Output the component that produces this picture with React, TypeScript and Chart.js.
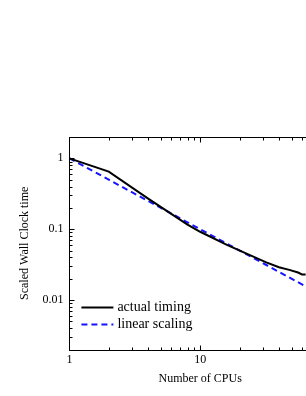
import React, { useEffect, useRef } from 'react';
import { Chart, registerables } from 'chart.js';

Chart.register(...registerables);

const cpuCounts = [1, 2, 4, 8, 10, 16, 24, 32, 40, 48, 56, 60, 64];
const actualTiming = [1, 0.65, 0.27, 0.116, 0.092, 0.06, 0.043, 0.034, 0.029, 0.0267, 0.0245, 0.023, 0.023];
const linearCpuCounts = [1, 2, 4, 8, 16, 32, 64];
const linearScaling = [1, 0.5, 0.25, 0.125, 0.0625, 0.03125, 0.015625];
const xTickValues = [1, 10, 100];
const xTickLabels = ['1', '10', '100'];
const yTickValues = [0.01, 0.1, 1];
const yTickLabels = ['0.01', '0.1', '1'];
const seriesNames = ['actual timing', 'linear scaling'];
const seriesColors = ['#000000', '#1414ff'];
const xTitle = 'Number of CPUs';
const yTitle = 'Scaled Wall Clock time';

const FONT = "'Liberation Serif', 'Times New Roman', serif";

function logMarks(min: number, max: number) {
  const out: { v: number; major: boolean }[] = [];
  for (let e = Math.floor(Math.log10(min)); e <= Math.ceil(Math.log10(max)); e++) {
    for (let m = 1; m <= 9; m++) {
      const v = m * Math.pow(10, e);
      if (v >= min * 0.999 && v <= max * 1.001) out.push({ v, major: m === 1 });
    }
  }
  return out;
}

const framePlugin = {
  id: 'framePlugin',
  afterDatasetsDraw(chart: any) {
    const { ctx, chartArea: a, scales } = chart;
    const xs = scales.x;
    const ys = scales.y;
    ctx.save();
    ctx.strokeStyle = '#000';
    ctx.lineWidth = 1;
    const L = Math.round(a.left) + 0.5;
    const R = Math.round(a.right) + 0.5;
    const T = Math.round(a.top) + 0.5;
    const B = Math.round(a.bottom) + 0.5;
    ctx.beginPath();
    ctx.rect(L, T, R - L, B - T);
    ctx.stroke();
    ctx.beginPath();
    for (const t of logMarks(xs.min, xs.max)) {
      const p = Math.round(xs.getPixelForValue(t.v)) + 0.5;
      const len = t.major ? 5 : 3;
      ctx.moveTo(p, B);
      ctx.lineTo(p, B - len);
      ctx.moveTo(p, T);
      ctx.lineTo(p, T + len);
    }
    for (const t of logMarks(ys.min, ys.max)) {
      const p = Math.round(ys.getPixelForValue(t.v)) + 0.5;
      const len = t.major ? 5 : 3;
      ctx.moveTo(L, p);
      ctx.lineTo(L + len, p);
      ctx.moveTo(R, p);
      ctx.lineTo(R - len, p);
    }
    ctx.stroke();

    // legend
    const rows = [a.bottom - 42, a.bottom - 25];
    ctx.font = `14px ${FONT}`;
    ctx.textBaseline = 'middle';
    ctx.textAlign = 'left';
    rows.forEach((y, i) => {
      ctx.beginPath();
      ctx.strokeStyle = seriesColors[i];
      ctx.lineWidth = 2;
      ctx.setLineDash(i === 1 ? [6, 4] : []);
      ctx.moveTo(a.left + 12, y);
      ctx.lineTo(a.left + 44, y);
      ctx.stroke();
      ctx.setLineDash([]);
      ctx.fillStyle = '#000';
      ctx.fillText(seriesNames[i], a.left + 48, y);
    });
    ctx.restore();
  },
};

export default function App() {
  const ref = useRef<HTMLCanvasElement>(null);
  useEffect(() => {
    document.documentElement.style.overflow = 'hidden';
    document.body.style.overflow = 'hidden';
    document.body.style.margin = '8px 0 0 8px';
    const root = document.getElementById('root');
    if (root) root.style.overflow = 'visible';
    Chart.defaults.font.family = FONT;
    const chart = new Chart(ref.current as HTMLCanvasElement, {
      type: 'line',
      data: {
        datasets: [
          {
            label: seriesNames[0],
            data: cpuCounts.map((x, i) => ({ x, y: actualTiming[i] })),
            borderColor: seriesColors[0],
            borderWidth: 2,
            pointRadius: 0,
            tension: 0,
          },
          {
            label: seriesNames[1],
            data: linearCpuCounts.map((x, i) => ({ x, y: linearScaling[i] })),
            borderColor: seriesColors[1],
            borderWidth: 2,
            borderDash: [6, 4],
            pointRadius: 0,
            tension: 0,
          },
        ],
      },
      options: {
        responsive: false,
        animation: false,
        layout: { padding: { left: 4, top: 129, right: 17, bottom: 5.6 } },
        plugins: { legend: { display: false }, tooltip: { enabled: false } },
        scales: {
          x: {
            type: 'logarithmic',
            min: 1,
            max: 100,
            grid: { display: false, drawTicks: false },
            border: { display: false },
            afterBuildTicks: (s: any) => {
              s.ticks = xTickValues.map((v) => ({ value: v }));
            },
            ticks: {
              color: '#000',
              font: { size: 12, family: FONT },
              padding: 3,
              maxRotation: 0,
              autoSkip: false,
              callback: (_v: any, i: number) => xTickLabels[i],
            },
            title: {
              display: true,
              text: xTitle,
              color: '#000',
              font: { size: 12, family: FONT },
              padding: { top: 2, bottom: 4 },
            },
          },
          y: {
            type: 'logarithmic',
            min: 0.002,
            max: 2,
            grid: { display: false, drawTicks: false },
            border: { display: false },
            afterBuildTicks: (s: any) => {
              s.ticks = yTickValues.map((v) => ({ value: v }));
            },
            ticks: {
              color: '#000',
              font: { size: 12, family: FONT },
              padding: 6,
              autoSkip: false,
              callback: (_v: any, i: number) => yTickLabels[i],
            },
            title: {
              display: true,
              text: yTitle,
              color: '#000',
              font: { size: 12, family: FONT },
              padding: { top: 6, bottom: 4 },
            },
          },
        },
      },
      plugins: [framePlugin],
    } as any);
    return () => chart.destroy();
  }, []);
  return (
    <div>
      <canvas ref={ref} width={340} height={388} style={{ display: 'block', width: 340, height: 388 }} />
    </div>
  );
}
